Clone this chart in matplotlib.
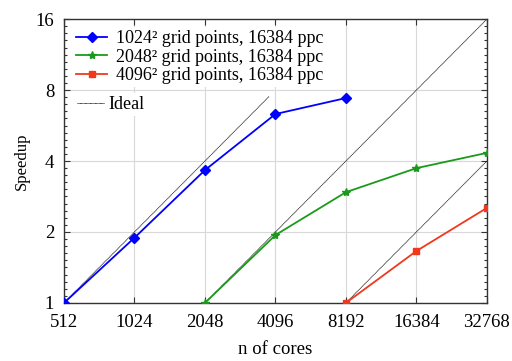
import matplotlib
matplotlib.use("Agg")
import matplotlib.pyplot as plt
import numpy as np
from matplotlib.ticker import FixedLocator, NullLocator, FixedFormatter, NullFormatter
from matplotlib.lines import Line2D

plt.rcParams['font.family'] = ['Liberation Serif', 'DejaVu Serif']

cores_1024 = [512, 1024, 2048, 4096, 8192]
speed_1024 = [1.0, 1.89, 3.66, 6.33, 7.4]
cores_2048 = [2048, 4096, 8192, 16384, 32768]
speed_2048 = [1.0, 1.94, 2.95, 3.73, 4.33]
cores_4096 = [8192, 16384, 32768]
speed_4096 = [1.0, 1.66, 2.53]

ideal_1024_x = [512, 3850]
ideal_1024_y = [1.0, 3850 / 512]
ideal_2048_x = [2048, 32768]
ideal_2048_y = [1.0, 16.0]
ideal_4096_x = [8192, 32768]
ideal_4096_y = [1.0, 4.0]

xticks = [512, 1024, 2048, 4096, 8192, 16384, 32768]
yticks = [1, 2, 4, 8, 16]

labels = ["1024\u00b2 grid points, 16384 ppc",
          "2048\u00b2 grid points, 16384 ppc",
          "4096\u00b2 grid points, 16384 ppc"]

fig = plt.figure(figsize=(5.12, 3.61), dpi=100)
ax = fig.add_axes([0.125, 0.161, 0.826, 0.786])
ax.set_xscale('log', base=2)
ax.set_yscale('log', base=2)

for ix, iy in [(ideal_1024_x, ideal_1024_y), (ideal_2048_x, ideal_2048_y), (ideal_4096_x, ideal_4096_y)]:
    ax.plot(ix, iy, color='black', lw=0.6, ls=(0, (1, 0.5)), zorder=2)

h1, = ax.plot(cores_1024, speed_1024, color='#0000ff', marker='D', ms=5.5, lw=1.3, zorder=3)
h2, = ax.plot(cores_2048, speed_2048, color='#1a9a1a', marker='*', ms=6, lw=1.3, zorder=3)
h3, = ax.plot(cores_4096, speed_4096, color='#f0381c', marker='s', ms=5, lw=1.3, zorder=3)

ax.set_xlim(512, 32768)
ax.set_ylim(1, 16)
ax.xaxis.set_major_locator(FixedLocator(xticks))
ax.xaxis.set_major_formatter(FixedFormatter([str(v) for v in xticks]))
ax.xaxis.set_minor_locator(NullLocator())
ax.xaxis.set_minor_formatter(NullFormatter())
ax.yaxis.set_major_locator(FixedLocator(yticks))
ax.yaxis.set_major_formatter(FixedFormatter([str(v) for v in yticks]))
ax.yaxis.set_minor_locator(FixedLocator([2 ** (k / 10) for k in range(41) if k % 10]))
ax.yaxis.set_minor_formatter(NullFormatter())

ax.tick_params(which='both', direction='in', top=True, right=True, labelsize=13.5, width=0.8,
               color='#333333', pad=7)
ax.tick_params(axis='x', pad=8)
ax.tick_params(which='major', length=4)
ax.tick_params(which='minor', length=2.5)
ax.grid(True, which='major', color='#d8d8d8', lw=0.8)
ax.set_axisbelow(True)
for s in ax.spines.values():
    s.set_color('#333333')
    s.set_linewidth(1.0)

ax.set_xlabel('n of cores', fontsize=13.5, labelpad=7)
ax.set_ylabel('Speedup', fontsize=12, labelpad=4)

leg1 = ax.legend([h1, h2, h3], labels, loc='upper left', bbox_to_anchor=(0.01, 0.99),
                 frameon=True, framealpha=1, edgecolor='none', fontsize=13,
                 handlelength=1.7, handletextpad=0.5, borderpad=0.15, labelspacing=0.08,
                 borderaxespad=0.3)
leg1.get_frame().set_linewidth(0)
ax.add_artist(leg1)
ideal_handle = Line2D([], [], color='black', lw=0.6, ls=(0, (1, 0.5)))
leg2 = ax.legend([ideal_handle], ['Ideal'], loc='upper left', bbox_to_anchor=(0.012, 0.757),
                 frameon=True, framealpha=1, edgecolor='none', fontsize=13,
                 handlelength=1.5, handletextpad=0.2, borderpad=0.15, borderaxespad=0.3)
leg2.get_frame().set_linewidth(0)

fig.savefig('out.png', dpi=100)
